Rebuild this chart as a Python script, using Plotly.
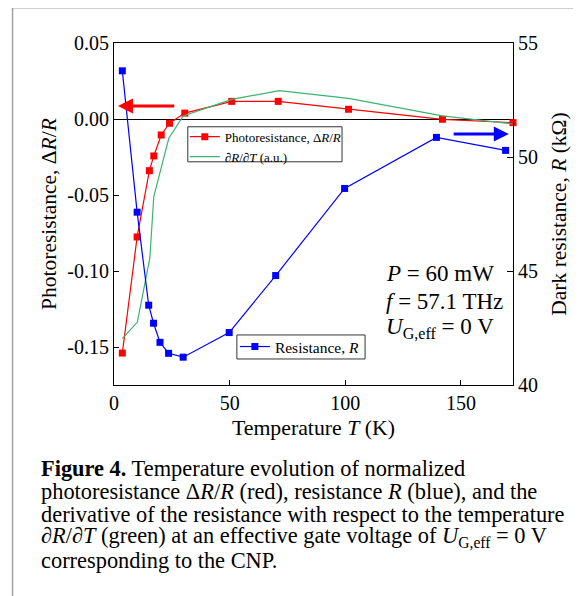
import plotly.graph_objects as go

# ---- data ----
T_photo = [3.6, 10, 15.3, 17.2, 20.4, 24, 30.6, 50.9, 71, 101.4, 142, 172.5]
dR_R = [-0.154, -0.0776, -0.034, -0.0243, -0.0105, -0.0028, 0.0039, 0.0116, 0.0116, 0.0064, -0.0002, -0.0024]

T_res = [3.6, 10, 15, 17.1, 19.9, 23.6, 29.9, 49.8, 69.9, 99.7, 139.4, 169.3]
R_dark = [53.78, 47.58, 43.5, 42.71, 41.87, 41.39, 41.22, 42.30, 44.80, 48.62, 50.86, 50.29]

T_deriv = [3.6, 10.1, 15.5, 17.2, 23.7, 29.9, 50.9, 71.5, 101.4, 142, 172.5]
dRdT = [-0.1445, -0.1336, -0.0914, -0.051, -0.0127, 0.002, 0.0129, 0.0186, 0.0136, 0.002, -0.0033]

x_ticks = [0, 50, 100, 150]
y_ticks = [0.05, 0.0, -0.05, -0.10, -0.15]
y_ticklabels = ["0.05", "0.00", "-0.05", "-0.10", "-0.15"]
y2_ticks = [40, 45, 50, 55]

caption_lines = [
    "<b>Figure 4.</b> Temperature evolution of normalized",
    "photoresistance Δ<i>R</i>/<i>R</i> (red), resistance <i>R</i> (blue), and the",
    "derivative of the resistance with respect to the temperature",
    "∂<i>R</i>/∂<i>T</i> (green) at an effective gate voltage of <i>U</i><sub>G,eff</sub> = 0 V",
    "corresponding to the CNP.",
]
info_lines = ["<i>P</i> = 60 mW", "<i>f</i> = 57.1 THz", "<i>U</i><sub>G,eff</sub> = 0 V"]

FONT = "Liberation Serif"

def fnt(size):
    return dict(family=FONT, size=size, color="black")

fig = go.Figure()
fig.add_trace(go.Scatter(
    x=T_photo, y=dR_R, mode="lines+markers", name="Photoresistance, Δ<i>R</i>/<i>R</i>",
    line=dict(color="#ff0000", width=1.2), marker=dict(symbol="square", size=7, color="#ff0000"),
    legend="legend", cliponaxis=False))
fig.add_trace(go.Scatter(
    x=T_deriv, y=dRdT, mode="lines", name="∂<i>R</i>/∂<i>T</i> (a.u.)",
    line=dict(color="#3cb371", width=1.2), legend="legend"))
fig.add_trace(go.Scatter(
    x=T_res, y=R_dark, mode="lines+markers", name="Resistance, <i>R</i>",
    line=dict(color="#0000ff", width=1.2), marker=dict(symbol="square", size=7, color="#0000ff"),
    yaxis="y2", legend="legend2", cliponaxis=False))

# page body has an 8px default margin: work in screen pixels and subtract it
OFF = 8
W, H = 581 - OFF, 596 - OFF
L, T_ = 114.3 - OFF, 43.3 - OFF
R_ = W - (512.7 - OFF)
B = H - (385 - OFF)
pw, ph = W - L - R_, H - T_ - B

def px(x):
    return (x - OFF - L) / pw

def py(y):
    return (H - B - (y - OFF)) / ph

annotations = []
# arrows
annotations.append(dict(x=1.7, y=0.0085, ax=26.7, ay=0.0085, xref="x", yref="y", axref="x", ayref="y",
                        showarrow=True, arrowhead=2, arrowsize=1, arrowwidth=3, arrowcolor="#ff0000", text=""))
annotations.append(dict(x=170.7, y=-0.0098, ax=146.2, ay=-0.0098, xref="x", yref="y", axref="x", ayref="y",
                        showarrow=True, arrowhead=2, arrowsize=1, arrowwidth=3, arrowcolor="#0000ff", text=""))
for i, t in enumerate(info_lines):
    annotations.append(dict(x=px(384), y=py([274, 301.5, 328][i]), xref="paper", yref="paper",
                            xanchor="left", yanchor="middle", showarrow=False, text=t, font=fnt(23)))
for i, t in enumerate(caption_lines):
    annotations.append(dict(x=px(39), y=py(468 + 23 * i), xref="paper", yref="paper",
                            xanchor="left", yanchor="middle", showarrow=False, text=t, font=fnt(22.4)))

shapes = [
    dict(type="rect", xref="paper", yref="paper", x0=px(13), x1=px(575), y0=py(640), y1=py(8),
         line=dict(color="#a0a0a0", width=1.5), fillcolor="rgba(0,0,0,0)", layer="below"),
    # legend frames
    dict(type="rect", xref="paper", yref="paper", x0=px(188), x1=px(342), y0=py(162), y1=py(127),
         line=dict(color="#333333", width=1), fillcolor="white", layer="above"),
    dict(type="rect", xref="paper", yref="paper", x0=px(237), x1=px(365), y0=py(359), y1=py(335),
         line=dict(color="#333333", width=1), fillcolor="white", layer="above"),
]

fig.update_layout(
    width=W, height=H, margin=dict(l=L, r=R_, t=T_, b=B, autoexpand=False),
    paper_bgcolor="white", plot_bgcolor="white",
    font=fnt(20),
    xaxis=dict(range=[0, 172.5], tickvals=x_ticks, ticks="inside", ticklen=5, tickcolor="black",
               showline=True, linecolor="black", linewidth=1.2, mirror=True, showgrid=False, zeroline=False,
               automargin=False,
               title=dict(text="Temperature <i>T</i> (K)", standoff=6, font=fnt(21.8)), tickfont=fnt(20)),
    yaxis=dict(range=[-0.175, 0.05], tickvals=y_ticks, ticktext=y_ticklabels, ticks="inside", ticklen=5,
               tickcolor="black", showline=True, linecolor="black", linewidth=1.2, showgrid=False,
               zeroline=True, zerolinecolor="black", zerolinewidth=1, automargin=False,
               title=dict(text="Photoresistance, Δ<i>R</i>/<i>R</i>", standoff=4, font=fnt(21.5)),
               tickfont=fnt(20)),
    yaxis2=dict(range=[40, 55], tickvals=y2_ticks, overlaying="y", side="right", ticks="inside", ticklen=6,
                tickcolor="black", showline=True, linecolor="black", linewidth=1.2, showgrid=False,
                zeroline=False, automargin=False,
                title=dict(text="Dark resistance, <i>R</i> (kΩ)", standoff=13, font=fnt(21.5)),
                tickfont=fnt(20)),
    legend=dict(x=px(185), y=py(122), xanchor="left", yanchor="top", bgcolor="rgba(0,0,0,0)",
                borderwidth=0, font=fnt(13), tracegroupgap=0, itemwidth=30),
    legend2=dict(x=px(235), y=py(330), xanchor="left", yanchor="top", bgcolor="rgba(0,0,0,0)",
                 borderwidth=0, font=fnt(15.5), itemwidth=30),
    annotations=annotations, shapes=shapes, showlegend=True,
)

fig.write_html("out.html")
